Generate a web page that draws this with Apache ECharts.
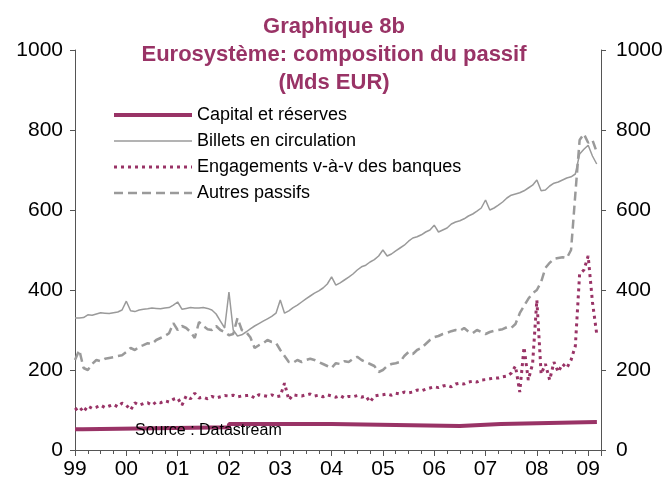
<!DOCTYPE html>
<html>
<head>
<meta charset="utf-8">
<script src="https://cdn.jsdelivr.net/npm/echarts@6/dist/echarts.min.js"></script>
<style>html,body{margin:0;padding:0;background:#fff}#c{width:668px;height:490px}</style>
</head>
<body>
<div id="c"></div>
<script>
// Monthly observations, Jan 1999 .. Mar 2009
const startYear = 1999;
const billets = [
 330,330,331,338,337,340,343,342,341,343,345,350,
 372,348,346,350,352,353,355,354,353,355,356,362,
 370,352,354,356,355,355,356,354,350,340,322,305,
 395,300,285,288,295,303,310,316,322,328,334,342,
 375,342,348,356,362,370,378,385,392,398,405,415,
 433,412,418,425,432,440,450,458,462,470,476,485,
 500,485,490,498,505,512,522,530,533,538,545,550,
 562,545,550,555,565,570,573,578,585,590,597,605,
 625,600,605,612,620,630,637,640,643,648,655,662,
 675,648,650,660,667,670,675,680,683,690,740,752,
 762,735,715
];
const autres = [
 225,250,205,200,215,225,222,228,230,232,235,237,
 245,255,250,258,262,267,265,275,280,285,292,317,
 300,310,305,295,280,320,310,302,300,310,300,295,
 287,290,330,300,295,282,255,262,267,275,270,268,
 250,235,220,218,225,220,225,228,225,220,215,210,
 205,217,215,222,220,228,233,225,220,215,210,195,
 200,210,215,217,220,235,245,240,250,255,265,275,
 282,285,290,293,297,300,298,305,296,292,300,295,
 290,295,298,300,302,307,305,315,342,360,378,392,
 400,420,455,468,478,480,482,480,500,640,775,790,
 768,775,745
];
const engagements = [
 100,108,95,110,104,107,112,106,110,114,108,117,
 112,100,118,112,116,118,112,120,118,123,120,127,
 130,112,135,128,142,130,132,128,134,130,133,136,
 135,137,133,135,136,137,130,138,136,134,138,133,
 135,167,125,138,136,135,138,140,135,137,133,138,
 135,132,136,130,134,133,136,132,135,120,135,137,
 138,140,137,142,140,145,143,145,150,148,152,155,
 158,156,160,162,158,165,167,165,170,172,170,175,
 176,178,180,180,183,185,192,210,145,257,175,215,
 375,190,215,175,220,195,215,205,225,260,440,450,
 485,370,290
];
// Capital et réserves: change dates (decimal years) and levels
const capitalDates = [1999.0, 1999.15, 2002.0, 2004.0, 2006.5, 2007.3, 2009.17];
const capitalValues = [52, 57, 65, 60, 65, 70, 70];
const yTicks = [0, 200, 400, 600, 800, 1000];
const names = ['Capital et réserves', 'Billets en circulation', 'Engagements v-à-v des banques', 'Autres passifs'];

const monthly = arr => arr.map((v, i) => [startYear + i / 12, v]);
const PURPLE = '#993366', GREY = '#9a9a9a', AX = '#555';
const FONT = 'Liberation Sans, Arial, sans-serif';

const styles = [
  { color: PURPLE, width: 4, type: 'solid' },
  { color: GREY, width: 1.5, type: 'solid' },
  { color: PURPLE, width: 3, type: [3, 4] },
  { color: GREY, width: 2.5, type: [9, 5] }
];

const yAxisBase = (pos, margin) => ({
  type: 'value', position: pos, min: yTicks[0], max: yTicks[yTicks.length - 1], interval: 200,
  splitLine: { show: false },
  axisLine: { show: true, lineStyle: { color: AX, width: 1 } },
  axisTick: { show: true, length: 5, lineStyle: { color: AX } },
  axisLabel: { color: '#000', fontSize: 21, fontFamily: FONT, margin: margin, formatter: v => String(v) }
});

const chart = echarts.init(document.getElementById('c'));
chart.setOption({
  animation: false,
  backgroundColor: '#fff',
  title: {
    text: 'Graphique 8b\nEurosystème: composition du passif\n(Mds EUR)',
    left: 'center', top: 8,
    textStyle: { color: PURPLE, fontSize: 22, fontWeight: 'bold', fontFamily: FONT, lineHeight: 28 }
  },
  legend: {
    orient: 'vertical', left: 112, top: 106, padding: 0,
    itemWidth: 78, itemHeight: 18, itemGap: 8,
    itemStyle: { opacity: 0, borderWidth: 0 },
    data: names.map((n, i) => ({ name: n, lineStyle: styles[i], itemStyle: { opacity: 0, borderWidth: 0 } })),
    textStyle: { color: '#000', fontSize: 18, fontFamily: FONT }
  },
  grid: { left: 75, right: 67, top: 50, bottom: 40, containLabel: false },
  xAxis: {
    type: 'value', min: 1999, max: 2009.25, interval: 1,
    splitLine: { show: false },
    axisLine: { show: true, onZero: false, lineStyle: { color: AX } },
    axisTick: { show: true, length: 6, lineStyle: { color: AX } },
    minorTick: { show: true, splitNumber: 4, length: 4, lineStyle: { color: AX } },
    minorSplitLine: { show: false },
    axisLabel: {
      color: '#000', fontSize: 21, fontFamily: FONT, margin: 9,
      formatter: v => Number.isInteger(v) ? String(v % 100).padStart(2, '0') : ''
    }
  },
  yAxis: [yAxisBase('left', 12), yAxisBase('right', 15)],
  graphic: [{
    type: 'text', left: 135, top: 423, z: 100,
    style: { text: 'Source : Datastream', fill: '#000', font: '16px ' + FONT }
  }],
  series: [
    { name: names[0], type: 'line', step: 'end', symbol: 'none', z: 5,
      data: capitalDates.map((d, i) => [d, capitalValues[i]]),
      lineStyle: styles[0], itemStyle: { color: PURPLE } },
    { name: names[1], type: 'line', symbol: 'none', z: 3,
      data: monthly(billets),
      lineStyle: styles[1], itemStyle: { color: GREY } },
    { name: names[2], type: 'line', symbol: 'none', z: 4,
      data: monthly(engagements),
      lineStyle: styles[2], itemStyle: { color: PURPLE } },
    { name: names[3], type: 'line', symbol: 'none', z: 2,
      data: monthly(autres),
      lineStyle: styles[3], itemStyle: { color: GREY } }
  ]
});
</script>
</body>
</html>
